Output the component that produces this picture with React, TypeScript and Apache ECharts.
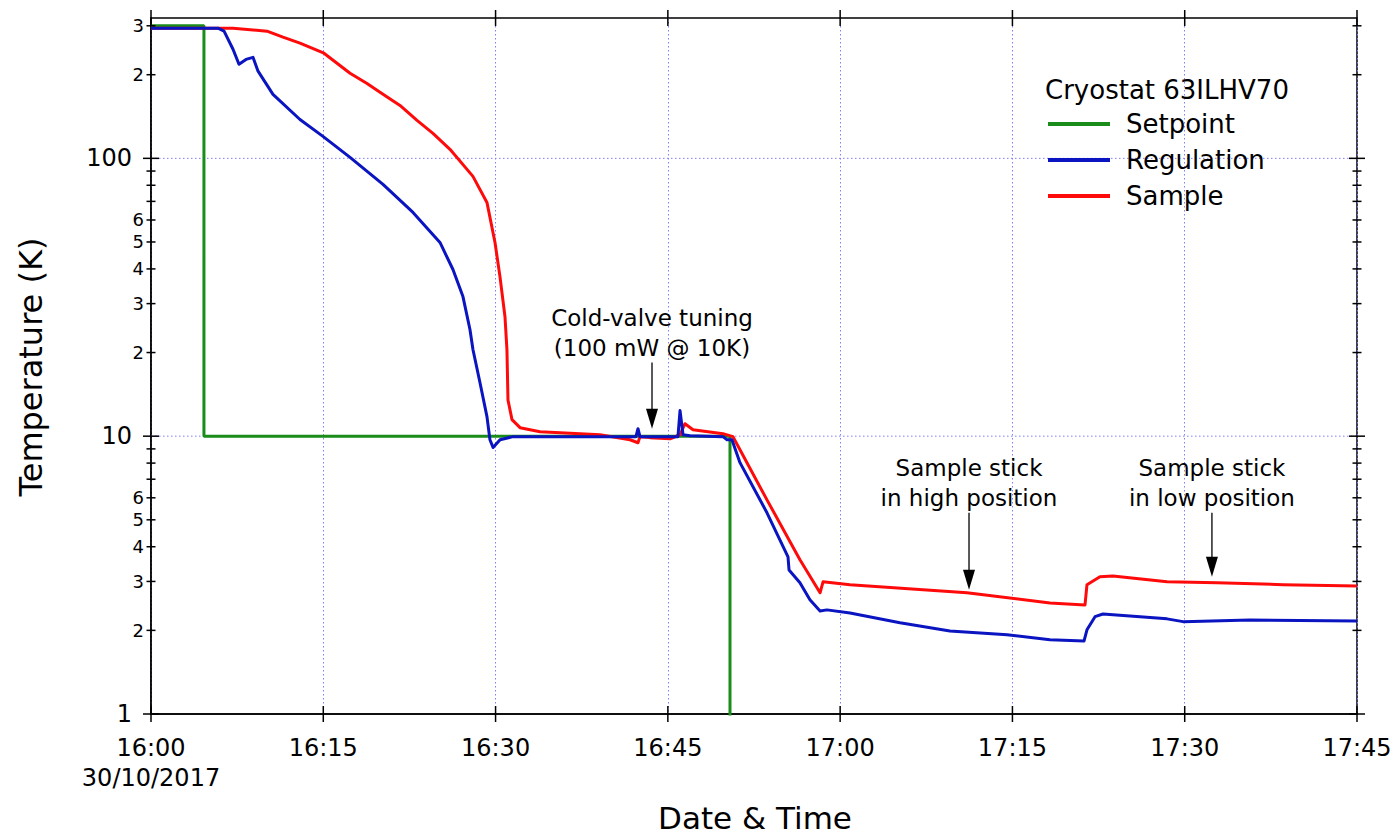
import React, { useEffect, useRef } from 'react';
import * as echarts from 'echarts';

const FONT = "'DejaVu Sans', Verdana, sans-serif";

// X axis: minutes after 16:00 on 30/10/2017
const X_MIN = 0;
const X_MAX = 105;
const X_STEP = 15;
const xTickValues = [0, 15, 30, 45, 60, 75, 90, 105];
const xTickLabels = ['16:00\n30/10/2017', '16:15', '16:30', '16:45', '17:00', '17:15', '17:30', '17:45'];

// Y axis (log, Kelvin)
const Y_MIN = 1;
const Y_MAX = 320;
const yTickValues = [1, 2, 3, 4, 5, 6, 7, 8, 9, 10, 20, 30, 40, 50, 60, 70, 80, 90, 100, 200, 300];
const yTickLabels = ['1', '2', '3', '4', '5', '6', '', '', '', '10', '2', '3', '4', '5', '6', '', '', '', '100', '2', '3'];
const yMajorValues = [1, 10, 100];
const yGridValues = [10, 100];

// Setpoint
const setpointTime = [0, 4.61, 4.61, 50.41, 50.41, 105];
const setpointVal = [300, 300, 10, 10, 0.5, 0.5];

// Regulation
const regTime = [0, 5.83, 6.36, 7.14, 7.66, 8.27, 8.88, 9.32, 10.62, 12.97, 14.97, 17.33, 20.2, 22.81, 25.16, 26.29, 27.16, 27.77, 28.03, 28.64, 29.25, 29.51, 29.78, 30.39, 31.52, 39.09, 42.22, 42.4, 42.57, 45.88, 46.06, 46.32, 46.93, 49.8, 50.15, 50.58, 51.28, 53.63, 55.46, 55.55, 56.5, 57.37, 58.25, 58.85, 60.86, 65.21, 69.56, 74.53, 78.27, 81.23, 81.49, 82.19, 82.88, 88.46, 89.85, 95.68, 105];
const regVal = [294, 294, 287, 247, 218, 227, 231, 206, 170, 138, 120, 100.8, 80.6, 63.9, 49.8, 39.8, 31.8, 24.2, 20.5, 15.6, 11.76, 9.71, 9.1, 9.71, 9.96, 9.96, 9.96, 10.64, 9.96, 9.96, 12.36, 10.12, 10.04, 9.96, 9.71, 9.71, 8.03, 5.3, 3.68, 3.3, 2.97, 2.58, 2.35, 2.37, 2.31, 2.13, 1.99, 1.93, 1.85, 1.83, 2.01, 2.24, 2.29, 2.2, 2.15, 2.18, 2.16];

// Sample
const sampleTime = [0, 7.14, 10.1, 11.49, 12.97, 15.06, 17.33, 18.81, 20.2, 21.68, 23.16, 24.55, 26.03, 28.03, 29.25, 29.95, 30.38, 30.82, 30.99, 31.08, 31.43, 32.13, 33.87, 39.09, 41.7, 42.4, 42.57, 43.44, 45.19, 46.06, 46.49, 47.19, 49.8, 50.67, 51.28, 53.63, 56.5, 58.25, 58.51, 60.86, 71.04, 78.27, 81.32, 81.49, 82.62, 83.75, 88.46, 92.81, 98.56, 105];
const sampleVal = [294, 294, 287, 273, 260, 239, 202.5, 186, 170, 155, 137, 123, 107.8, 86.1, 69.4, 49.8, 37.6, 26.9, 20.5, 13.5, 11.47, 10.73, 10.38, 10.12, 9.71, 9.47, 9.96, 9.88, 9.79, 10.12, 11.09, 10.55, 10.21, 9.96, 8.94, 5.9, 3.59, 2.73, 2.99, 2.92, 2.73, 2.51, 2.47, 2.92, 3.12, 3.14, 2.99, 2.97, 2.92, 2.89];

// Annotations
const annX = [43.62, 71.22, 92.37];
const annTail = [18.4, 5.3, 5.3];
const annTip = [10.64, 2.8, 3.12];
const annLine1 = ['Cold-valve tuning', 'Sample stick', 'Sample stick'];
const annLine2 = ['(100 mW @ 10K)', 'in high position', 'in low position'];

const seriesNames = ['Setpoint', 'Regulation', 'Sample'];
const GREEN = '#1a8c1a';
const BLUE = '#0a14c0';
const RED = '#ff0a0a';

function zip(t: number[], v: number[]) {
  return t.map((x, i) => [x, v[i]]);
}

function buildOption(): any {
  return {
    animation: false,
    backgroundColor: '#fff',
    textStyle: { fontFamily: FONT },
    grid: {
      left: 151, right: 39, top: 18, bottom: 124,
      containLabel: false, outerBoundsMode: 'none',
      show: true, borderColor: '#000', borderWidth: 1.5, backgroundColor: 'transparent',
    },
    title: {
      text: 'Cryostat 63ILHV70',
      left: 1040, top: 70,
      textStyle: { fontFamily: FONT, fontSize: 26, fontWeight: 'normal', color: '#000', lineHeight: 30 },
    },
    legend: {
      data: seriesNames,
      orient: 'vertical',
      left: 1043, top: 104,
      icon: 'rect',
      itemWidth: 62, itemHeight: 4,
      itemGap: 6,
      selectedMode: false,
      textStyle: { fontFamily: FONT, fontSize: 26, color: '#000', lineHeight: 30, padding: [0, 0, 0, 11] },
    },
    xAxis: {
      type: 'value', min: X_MIN, max: X_MAX, interval: X_STEP,
      axisLine: { show: true, lineStyle: { color: '#000', width: 1.5 } },
      axisTick: { show: false },
      splitLine: { show: true, lineStyle: { color: '#7f7fff', width: 1, type: [1.5, 2.5] } },
      axisLabel: {
        show: true, margin: 19, fontSize: 24, lineHeight: 30, color: '#000', fontFamily: FONT,
        showMinLabel: true, showMaxLabel: true,
        formatter: (v: number) => {
          const idx = xTickValues.indexOf(Math.round(v));
          return idx >= 0 ? xTickLabels[idx] : '';
        },
      },
    },
    yAxis: {
      type: 'log', logBase: 10, min: Y_MIN, max: Y_MAX,
      axisLine: { show: true, lineStyle: { color: '#000', width: 1.5 } },
      axisTick: { show: false },
      minorTick: { show: false },
      axisLabel: { show: false },
      splitLine: { show: false },
    },
    graphic: [
      {
        type: 'text', x: 31, y: 367, rotation: Math.PI / 2,
        style: { text: 'Temperature (K)', fontFamily: FONT, fontSize: 32, fill: '#000', align: 'center', verticalAlign: 'middle' },
      },
      {
        type: 'text', x: 755, y: 818,
        style: { text: 'Date & Time', fontFamily: FONT, fontSize: 31, fill: '#000', align: 'center', verticalAlign: 'middle' },
      },
    ],
    series: [
      {
        type: 'custom', name: 'ygrid', silent: true, z: 1,
        data: yGridValues.map((v) => [X_MIN, v]),
        encode: { x: 0, y: 1 },
        renderItem: (params: any, api: any) => {
          const v = yGridValues[params.dataIndex];
          const pl = api.coord([X_MIN, v]);
          const pr = api.coord([X_MAX, v]);
          return {
            type: 'line',
            shape: { x1: pl[0], y1: pl[1], x2: pr[0], y2: pr[1] },
            style: { stroke: '#7f7fff', lineWidth: 1, lineDash: [1.5, 2.5] },
          };
        },
      },
      {
        name: 'Setpoint', type: 'line', z: 3,
        data: zip(setpointTime, setpointVal),
        showSymbol: false, symbol: 'none', clip: true,
        lineStyle: { color: GREEN, width: 3 }, itemStyle: { color: GREEN },
      },
      {
        name: 'Sample', type: 'line', z: 4,
        data: zip(sampleTime, sampleVal),
        showSymbol: false, symbol: 'none', clip: true,
        lineStyle: { color: RED, width: 3, join: 'round' }, itemStyle: { color: RED },
      },
      {
        name: 'Regulation', type: 'line', z: 5,
        data: zip(regTime, regVal),
        showSymbol: false, symbol: 'none', clip: true,
        lineStyle: { color: BLUE, width: 3, join: 'round' }, itemStyle: { color: BLUE },
      },
      {
        type: 'custom', name: 'yticks', silent: true, z: 10,
        data: yTickValues.map((v) => [X_MIN, v]),
        encode: { x: 0, y: 1 },
        renderItem: (params: any, api: any) => {
          const i = params.dataIndex;
          const v = yTickValues[i];
          const pl = api.coord([X_MIN, v]);
          const pr = api.coord([X_MAX, v]);
          const major = yMajorValues.indexOf(v) >= 0;
          const h = major ? 8 : 4.5;
          const children: any[] = [
            { type: 'line', shape: { x1: pl[0] - h, y1: pl[1], x2: pl[0] + h, y2: pl[1] }, style: { stroke: '#000', lineWidth: 1.5 } },
            { type: 'line', shape: { x1: pr[0] - h, y1: pr[1], x2: pr[0] + h, y2: pr[1] }, style: { stroke: '#000', lineWidth: 1.5 } },
          ];
          const lab = yTickLabels[i];
          if (lab) {
            children.push({
              type: 'text',
              style: {
                text: lab, x: pl[0] - (major ? 19 : 7), y: pl[1],
                align: 'right', verticalAlign: 'middle',
                fontSize: major ? 24 : 18, fontFamily: FONT, fill: '#000',
              },
            });
          }
          return { type: 'group', children };
        },
      },
      {
        type: 'custom', name: 'xticks', silent: true, z: 10,
        data: xTickValues.map((t) => [t, Y_MIN]),
        encode: { x: 0, y: 1 },
        renderItem: (params: any, api: any) => {
          const t = xTickValues[params.dataIndex];
          const pb = api.coord([t, Y_MIN]);
          const pt = api.coord([t, Y_MAX]);
          const h = 8;
          return {
            type: 'group',
            children: [
              { type: 'line', shape: { x1: pb[0], y1: pb[1] - h, x2: pb[0], y2: pb[1] + h }, style: { stroke: '#000', lineWidth: 1.5 } },
              { type: 'line', shape: { x1: pt[0], y1: pt[1] - h, x2: pt[0], y2: pt[1] + h }, style: { stroke: '#000', lineWidth: 1.5 } },
            ],
          };
        },
      },
      {
        type: 'custom', name: 'annotations', silent: true, z: 12,
        data: annX.map((x, i) => [x, annTip[i]]),
        encode: { x: 0, y: 1 },
        renderItem: (params: any, api: any) => {
          const i = params.dataIndex;
          const p0 = api.coord([annX[i], annTail[i]]);
          const p1 = api.coord([annX[i], annTip[i]]);
          const headLen = 20;
          const headW = 6;
          return {
            type: 'group',
            children: [
              { type: 'line', shape: { x1: p0[0], y1: p0[1], x2: p1[0], y2: p1[1] - headLen + 2 }, style: { stroke: '#000', lineWidth: 1.3 } },
              { type: 'polygon', shape: { points: [[p1[0] - headW, p1[1] - headLen], [p1[0] + headW, p1[1] - headLen], [p1[0], p1[1]]] }, style: { fill: '#000' } },
              { type: 'text', style: { text: annLine2[i], x: p0[0], y: p0[1] - 15, align: 'center', verticalAlign: 'middle', fontSize: 23, fontFamily: FONT, fill: '#000' } },
              { type: 'text', style: { text: annLine1[i], x: p0[0], y: p0[1] - 45, align: 'center', verticalAlign: 'middle', fontSize: 23, fontFamily: FONT, fill: '#000' } },
            ],
          };
        },
      },
    ],
  };
}

export default function App() {
  const ref = useRef<HTMLDivElement>(null);
  useEffect(() => {
    document.body.style.margin = '0';
    const chart = echarts.init(ref.current as HTMLDivElement, null, { renderer: 'svg' });
    chart.setOption(buildOption());
    return () => {
      chart.dispose();
    };
  }, []);
  return <div ref={ref} style={{ width: 1396, height: 838 }} />;
}
